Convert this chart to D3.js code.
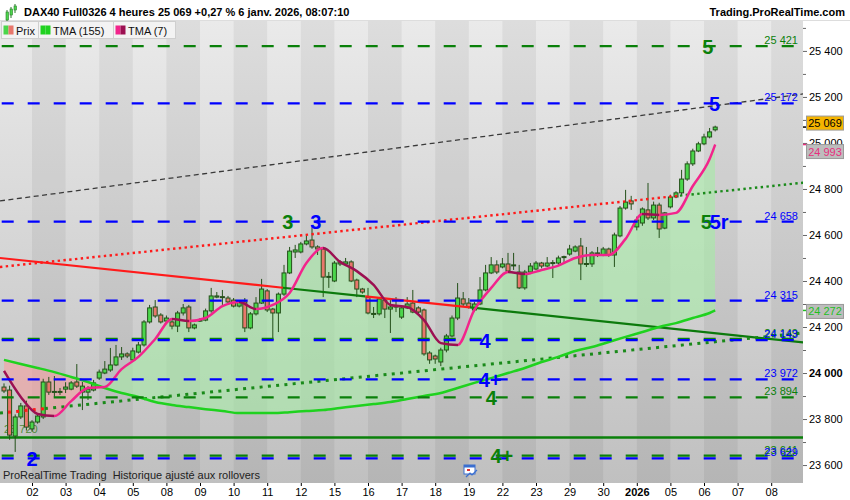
<!DOCTYPE html>
<html lang="fr">
<head>
<meta charset="UTF-8">
<title>DAX40 Full0326 4 heures</title>
<script src="https://d3js.org/d3.v7.min.js"></script>
<style>
  body { margin: 0; background: #fff; }
  text { font-family: "Liberation Sans", Arial, sans-serif; white-space: pre; }
</style>
</head>
<body>
<script>
  const width = 850, height = 500;
  const plotTop = 21, plotBottom = 483, plotRight = 803;

  // 4h bars, 1 Dec 2025 -> 6 Jan 2026 (6 bars a day)
  const opens = [23939,23926,23726,23809,23857,23757,23787,23809,23961,23917,23920,23930,23930,23961,23917,23917,
    23926,23978,24000,24013,24035,24070,24083,24057,24091,24122,24222,24287,24252,24226,24222,24204,
    24261,24287,24196,24228,24230,24270,24330,24332,24326,24317,24291,24309,24196,24257,24304,24357,
    24278,24261,24343,24435,24526,24526,24561,24578,24548,24539,24417,24400,24474,24474,24483,24404,
    24365,24330,24257,24257,24317,24278,24291,24243,24283,24304,24283,24274,24087,24074,24048,24100,
    24161,24239,24322,24304,24274,24300,24361,24435,24470,24461,24474,24468,24439,24370,24439,24452,
    24478,24465,24478,24478,24504,24517,24530,24552,24474,24474,24520,24513,24539,24513,24596,24717,
    24748,24635,24652,24709,24674,24730,24630,24722,24765,24783,24843,24909,24965,24996,25026,25057];
  const highs = [23955,23945,23820,23870,23880,23795,23820,23975,23983,23987,23935,23960,23965,24039,23961,23943,
    23970,24015,24052,24109,24122,24113,24090,24110,24135,24230,24296,24317,24260,24250,24230,24270,
    24300,24296,24215,24239,24280,24370,24352,24361,24335,24326,24317,24326,24265,24330,24409,24365,
    24283,24350,24470,24548,24557,24570,24604,24643,24555,24548,24439,24487,24491,24500,24490,24410,
    24370,24370,24287,24330,24322,24317,24330,24290,24330,24361,24290,24280,24095,24080,24110,24170,
    24250,24391,24352,24326,24310,24417,24470,24504,24490,24500,24522,24522,24470,24448,24478,24487,
    24483,24504,24491,24510,24510,24557,24555,24587,24548,24530,24548,24548,24545,24610,24726,24796,
    24770,24680,24720,24826,24745,24740,24700,24775,24790,24883,24920,24975,25005,25040,25065,25075];
  const lows = [23913,23710,23657,23800,23750,23745,23780,23800,23905,23896,23905,23913,23925,23935,23839,23883,
    23920,23970,23995,24005,24030,24057,24065,24050,24085,24115,24215,24240,24215,24220,24190,24178,
    24250,24178,24190,24222,24225,24262,24325,24296,24300,24285,24285,24178,24190,24250,24300,24265,
    24152,24178,24335,24430,24500,24520,24555,24540,24513,24330,24370,24395,24465,24468,24395,24330,
    24345,24255,24239,24250,24239,24174,24265,24235,24278,24260,24255,24075,24040,24040,24030,24090,
    24155,24230,24290,24280,24265,24295,24355,24430,24430,24455,24435,24448,24365,24362,24430,24447,
    24455,24460,24413,24470,24480,24510,24525,24404,24461,24461,24504,24508,24505,24461,24590,24710,
    24709,24620,24640,24665,24665,24587,24625,24715,24760,24770,24835,24900,24960,24990,25020,25050];
  const closes = [23922,23730,23809,23857,23765,23787,23813,23961,23917,23920,23918,23939,23957,23943,23943,23930,
    23957,24004,24017,24035,24070,24083,24074,24096,24122,24222,24283,24248,24222,24239,24204,24261,
    24283,24196,24209,24230,24270,24335,24335,24330,24309,24291,24309,24196,24257,24304,24365,24274,
    24261,24343,24435,24530,24535,24561,24574,24548,24539,24417,24420,24478,24483,24483,24400,24365,
    24352,24261,24259,24322,24278,24287,24290,24283,24300,24265,24265,24083,24057,24061,24100,24161,
    24239,24326,24300,24287,24300,24361,24435,24470,24439,24474,24443,24470,24370,24439,24465,24478,
    24465,24478,24480,24500,24506,24539,24548,24474,24476,24522,24522,24539,24513,24600,24717,24743,
    24735,24665,24713,24674,24730,24626,24696,24765,24783,24843,24909,24965,24996,25026,25048,25069];

  // x-axis day labels, from 2 Dec
  const dayLabels = ["02","03","04","05","08","09","10","11","12","15","16","17","18","19",
                     "22","23","29","30","2026","05","06","07","08"];

  // moving averages, read every 3 bars
  const tmaIdx = [0,3,6,9,12,15,18,21,24,27,30,33,36,39,42,45,48,51,54,57,60,63,66,69,72,75,
                  78,81,84,87,90,93,96,99,102,105,108,111,114,117,120,123,126,127];
  const tma7 = [24009,23896,23822,23813,23878,23935,23939,24017,24070,24148,24235,24226,24239,24291,
                24309,24278,24296,24348,24478,24543,24483,24443,24383,24296,24287,24230,24130,24122,
                24274,24370,24439,24430,24448,24467,24500,24513,24513,24583,24691,24687,24696,24813,
                24930,24993];
  const tma155 = [24057,24039,24022,24004,23983,23961,23935,23913,23896,23874,23861,23852,23843,23835,
                  23826,23826,23826,23830,23835,23839,23848,23857,23865,23874,23887,23900,23913,23935,
                  23957,23978,24000,24022,24048,24070,24096,24113,24135,24157,24178,24200,24217,24239,
                  24261,24272];

  // horizontal levels
  const levelPrices = [25421, 25172, 24658, 24315, 24149, 24143, 23972, 23894, 23641, 23629];
  const levelSide   = ["g","b","b","b","g","b","b","g","g","b"];
  const supportPrice = 23720;

  // oblique lines: [bar, price] at both ends, and bars where the price crosses them
  const channelTop  = [[-0.72, 24748], [142.7, 25213]];
  const channelMid  = [[-0.72, 24461], [142.7, 24827]];
  const midCross    = [120.7];
  const downTrend   = [[-0.72, 24500], [142.7, 24133]];
  const downCross   = [49.8, 64.5, 83.2];
  const upTrend     = [[-0.72, 23826], [142.7, 24174]];
  const upCross     = [0.7, 7.3];

  // wave counts: text, side, bar, price
  const waveText  = ["5","5","5","5r","3","3","4","4+","4","4+","2"];
  const waveSide  = ["g","b","g","b","g","b","b","b","g","g","b"];
  const waveBar   = [125.7,126.9,125.4,127.7,50.7,55.7,85.9,86.8,87,88.9,5];
  const wavePrice = [25421,25172,24658,24658,24658,24658,24143,23972,23894,23641,23629];

  const GREEN = "#0a800a", BLUE = "#0000ff";
  const sideColor = s => s === "g" ? GREEN : BLUE;
  const fmt = v => d3.format(",")(v).replace(/,/g, " ");

  const x = d3.scaleLinear().domain([0, 127]).range([4, 715.2]);
  const y = d3.scaleLinear().domain([23522, 25530]).range([plotBottom, plotTop]);

  const svg = d3.select("body").append("svg").attr("width", width).attr("height", height);
  const defs = svg.append("defs");

  const bg = defs.append("linearGradient").attr("id", "bg").attr("x1", 0).attr("x2", 0).attr("y1", 0).attr("y2", 1);
  bg.append("stop").attr("offset", 0).attr("stop-color", "#eaeaea");
  bg.append("stop").attr("offset", 1).attr("stop-color", "#c0c0c0");

  defs.append("clipPath").attr("id", "plot").append("rect")
      .attr("x", 0).attr("y", plotTop).attr("width", plotRight).attr("height", plotBottom - plotTop);

  svg.append("rect").attr("width", width).attr("height", height).attr("fill", "#fff");
  svg.append("rect").attr("x", 0).attr("y", plotTop).attr("width", plotRight)
      .attr("height", plotBottom - plotTop).attr("fill", "url(#bg)");

  const plot = svg.append("g").attr("clip-path", "url(#plot)");

  // alternating day stripes
  const dayStarts = d3.range(0, 25).map(k => 6 * k - 1);
  plot.selectAll("rect.day").data(dayStarts.filter((d, k) => k % 2 === 1)).join("rect")
      .attr("class", "day")
      .attr("x", d => x(d)).attr("width", d => x(d + 6) - x(d))
      .attr("y", plotTop).attr("height", plotBottom - plotTop)
      .attr("fill", "rgba(0,0,0,0.055)");

  // cloud between TMA(7) and TMA(155)
  const pts = tmaIdx.map((i, k) => ({ i, a: tma7[k], b: tma155[k] }));
  const curve = d3.curveMonotoneX;
  defs.append("clipPath").attr("id", "above").append("path")
      .attr("d", d3.area().x(d => x(d.i)).y0(plotTop).y1(d => y(d.b)).curve(curve)(pts));
  defs.append("clipPath").attr("id", "below").append("path")
      .attr("d", d3.area().x(d => x(d.i)).y0(d => y(d.b)).y1(plotBottom).curve(curve)(pts));
  const cloud = d3.area().x(d => x(d.i)).y0(d => y(d.b)).y1(d => y(d.a)).curve(curve);
  plot.append("path").attr("d", cloud(pts)).attr("fill", "rgba(165,235,165,0.6)").attr("clip-path", "url(#above)");
  plot.append("path").attr("d", cloud(pts)).attr("fill", "rgba(245,160,160,0.6)").attr("clip-path", "url(#below)");

  // support line and its label
  plot.append("line").attr("x1", 0).attr("x2", plotRight)
      .attr("y1", y(supportPrice)).attr("y2", y(supportPrice))
      .attr("stroke", GREEN).attr("stroke-width", 2.5);
  plot.append("text").attr("x", 4).attr("y", y(supportPrice) - 4)
      .attr("font-size", 11).attr("fill", "#4f8a3a").text(fmt(supportPrice));

  // candles
  const bars = d3.range(opens.length);
  plot.selectAll("line.wick").data(bars).join("line")
      .attr("x1", i => x(i)).attr("x2", i => x(i))
      .attr("y1", i => y(highs[i])).attr("y2", i => y(lows[i]))
      .attr("stroke", "#24501a").attr("stroke-width", 1);
  plot.selectAll("rect.body").data(bars).join("rect")
      .attr("x", i => x(i) - 2).attr("width", 4)
      .attr("y", i => y(Math.max(opens[i], closes[i])))
      .attr("height", i => Math.max(1, Math.abs(y(opens[i]) - y(closes[i]))))
      .attr("fill", i => closes[i] >= opens[i] ? "#4bd64b" : "#e8776c")
      .attr("stroke", "#24501a").attr("stroke-width", 1);

  // oblique lines, coloured by side of price
  function trend(ends, breaks, colors, dash, w) {
    const [[i0, p0], [i1, p1]] = ends;
    const at = i => p0 + (p1 - p0) * (i - i0) / (i1 - i0);
    const cuts = [i0, ...breaks, i1];
    for (let k = 0; k < cuts.length - 1; k++) {
      plot.append("line")
          .attr("x1", x(cuts[k])).attr("y1", y(at(cuts[k])))
          .attr("x2", x(cuts[k + 1])).attr("y2", y(at(cuts[k + 1])))
          .attr("stroke", colors[k % colors.length]).attr("stroke-width", w)
          .attr("stroke-dasharray", dash);
    }
  }
  trend(channelTop, [], ["#3a3a3a"], "5,3.5", 1.3);
  trend(channelMid, midCross, ["#ff1a1a", "#1a8a1a"], "2.4,3.4", 2.4);
  trend(downTrend, downCross, ["#ff1a1a", "#0c7a0c"], null, 2.2);
  trend(upTrend, upCross, ["#1a8a1a", "#ff1a1a"], "3,5.3", 3);

  // TMA(155)
  const line = d3.line().x(d => x(d.i)).y(d => y(d.v)).curve(curve);
  plot.append("path").attr("d", line(tmaIdx.map((i, k) => ({ i, v: tma155[k] }))))
      .attr("fill", "none").attr("stroke", "#1fd21f").attr("stroke-width", 2.5);

  // TMA(7): pink when rising, maroon when falling
  const g7 = defs.append("linearGradient").attr("id", "tma7").attr("gradientUnits", "userSpaceOnUse")
      .attr("x1", 0).attr("x2", width).attr("y1", 0).attr("y2", 0);
  for (let k = 1; k < tmaIdx.length; k++) {
    const c = tma7[k] >= tma7[k - 1] ? "#f2248c" : "#9c1052";
    g7.append("stop").attr("offset", x(tmaIdx[k - 1]) / width).attr("stop-color", c);
    g7.append("stop").attr("offset", x(tmaIdx[k]) / width).attr("stop-color", c);
  }
  plot.append("path").attr("d", line(tmaIdx.map((i, k) => ({ i, v: tma7[k] }))))
      .attr("fill", "none").attr("stroke", "url(#tma7)").attr("stroke-width", 2.5);

  // dashed levels + labels
  levelPrices.forEach((p, k) => {
    plot.append("line").attr("x1", 1.7).attr("x2", plotRight)
        .attr("y1", y(p)).attr("y2", y(p))
        .attr("stroke", sideColor(levelSide[k])).attr("stroke-width", 2.2)
        .attr("stroke-dasharray", "12,14");
    plot.append("text").attr("x", 798).attr("y", y(p) - 2).attr("text-anchor", "end")
        .attr("font-size", 11).attr("fill", sideColor(levelSide[k])).text(fmt(p));
  });

  // wave counts
  waveText.forEach((t, k) => {
    plot.append("text").attr("x", x(waveBar[k])).attr("y", y(wavePrice[k]) + 7.5)
        .attr("text-anchor", "middle").attr("font-size", 20).attr("font-weight", "bold")
        .attr("fill", sideColor(waveSide[k])).text(t);
  });

  // footer note + calendar icon
  svg.append("text").attr("x", 3).attr("y", 479).attr("font-size", 11).attr("fill", "#222")
      .text("ProRealTime Trading  Historique ajusté aux rollovers");
  const cal = svg.append("g").attr("transform", "translate(464,465)");
  cal.append("rect").attr("width", 11).attr("height", 9).attr("fill", "#fff").attr("stroke", "#3a6fd0");
  cal.append("rect").attr("width", 11).attr("height", 2.5).attr("fill", "#3a6fd0");
  cal.append("rect").attr("x", 3).attr("y", 4).attr("width", 3).attr("height", 2).attr("fill", "#e03030");
  cal.append("path").attr("d", "M2,12 L6,8 L8,10 L13,5").attr("fill", "none").attr("stroke", "#3a6fd0").attr("stroke-width", 1.2);

  // right axis
  const yAxis = svg.append("g").attr("transform", `translate(${plotRight},0)`)
      .call(d3.axisRight(y).tickValues(d3.range(23600, 25401, 200)).tickSize(4).tickPadding(2).tickFormat(fmt));
  svg.append("g").attr("transform", `translate(${plotRight},0)`)
      .call(d3.axisRight(y).tickValues(d3.range(23700, 25501, 200)).tickSize(3).tickFormat(""))
      .call(g => g.select(".domain").remove());
  yAxis.select(".domain").remove();
  yAxis.selectAll("text").attr("font-size", 11).attr("font-family", "Liberation Sans, Arial, sans-serif")
      .attr("fill", "#000").attr("font-weight", d => d === 24000 ? "bold" : "normal");
  svg.selectAll(".tick line").attr("stroke", "#666");

  // price tags on the axis
  const tags = [
    { v: closes[closes.length - 1], dy: -4, fill: "#f5b400", color: "#000", tick: "#000" },
    { v: tma7[tma7.length - 1], dy: 7, fill: "#bdbdbd", color: "#e8307e", tick: "#e8307e" },
    { v: tma155[tma155.length - 1], dy: 1, fill: "#bdbdbd", color: "#1fbf1f", tick: "#1fbf1f" }
  ];
  tags.forEach(t => {
    const cy = y(t.v) + t.dy;
    svg.append("line").attr("x1", plotRight).attr("x2", 808).attr("y1", y(t.v)).attr("y2", y(t.v))
        .attr("stroke", t.tick).attr("stroke-width", 1.5);
    svg.append("rect").attr("x", 806.5).attr("y", cy - 7).attr("width", 37).attr("height", 14)
        .attr("fill", t.fill).attr("stroke", "#9a9a9a");
    svg.append("text").attr("x", 825).attr("y", cy + 4).attr("text-anchor", "middle")
        .attr("font-size", 11).attr("fill", t.color).text(fmt(t.v));
  });

  // bottom axis
  const dayTicks = dayLabels.map((d, k) => 6 * (k + 1) - 1);
  const xAxis = svg.append("g").attr("transform", `translate(0,${plotBottom})`)
      .call(d3.axisBottom(x).tickValues(dayTicks).tickSize(3).tickPadding(2).tickFormat((d, k) => dayLabels[k]));
  xAxis.select(".domain").remove();
  xAxis.selectAll("text").attr("font-size", 11).attr("font-family", "Liberation Sans, Arial, sans-serif")
      .attr("fill", "#000").attr("font-weight", (d, k) => dayLabels[k] === "2026" ? "bold" : "normal");

  // header
  svg.append("rect").attr("width", width).attr("height", plotTop).attr("fill", "#fff");
  svg.append("line").attr("x1", 0).attr("x2", width).attr("y1", plotTop - 0.5).attr("y2", plotTop - 0.5).attr("stroke", "#ddd");
  const icon = svg.append("g").attr("transform", "translate(5,4)");
  [[1, 6, 4, 10], [5, 3, 5, 8], [9, 0, 2, 6]].forEach(([cx, t, b, h]) => {
    icon.append("line").attr("x1", cx + 1).attr("x2", cx + 1).attr("y1", t).attr("y2", t + h + 3).attr("stroke", "#2a7a2a");
    icon.append("rect").attr("x", cx).attr("y", t + 2).attr("width", 2.5).attr("height", h - 2).attr("fill", "#4bd64b").attr("stroke", "#2a7a2a").attr("stroke-width", 0.6);
  });
  svg.append("text").attr("x", 24).attr("y", 16).attr("font-size", 11).attr("font-weight", "bold")
      .text("DAX40 Full0326 4 heures 25 069 +0,27 % 6 janv. 2026, 08:07:10");
  svg.append("text").attr("x", 845).attr("y", 16).attr("text-anchor", "end").attr("font-size", 11)
      .attr("font-weight", "bold").text("Trading.ProRealTime.com");

  // legend
  const legend = [
    { label: "Prix", x0: 1, w: 37, c1: "#4bd64b", c2: "#e8776c" },
    { label: "TMA (155)", x0: 38, w: 75, c1: "#1fd21f", c2: "#1fd21f" },
    { label: "TMA (7)", x0: 113, w: 62, c1: "#f2248c", c2: "#9c1052" }
  ];
  legend.forEach(l => {
    svg.append("rect").attr("x", l.x0 + 0.5).attr("y", plotTop + 0.5).attr("width", l.w).attr("height", 17)
        .attr("fill", "#f3f3f3").attr("stroke", "#cfcfcf");
    svg.append("rect").attr("x", l.x0 + 2.5).attr("y", plotTop + 4.5).attr("width", 5).attr("height", 9).attr("fill", l.c1);
    svg.append("rect").attr("x", l.x0 + 7.5).attr("y", plotTop + 4.5).attr("width", 5).attr("height", 9).attr("fill", l.c2);
    svg.append("text").attr("x", l.x0 + 15).attr("y", plotTop + 13.5).attr("font-size", 11).attr("fill", "#111").text(l.label);
  });
</script>
</body>
</html>
